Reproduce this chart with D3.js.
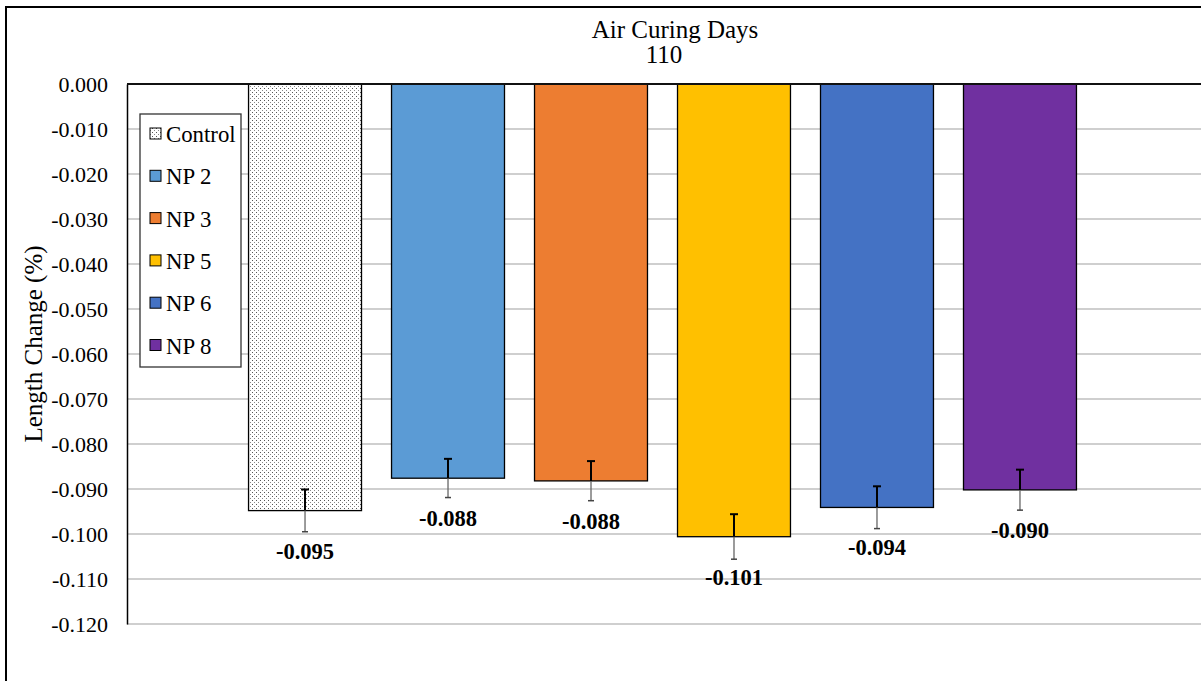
<!DOCTYPE html>
<html>
<head>
<meta charset="utf-8">
<script src="https://cdn.jsdelivr.net/npm/d3@7"></script>
<style>
  html, body { margin: 0; padding: 0; background: #fff; }
  svg { display: block; }
  svg text { font-family: "Liberation Serif", "Times New Roman", serif; fill: #000; }
</style>
</head>
<body>
<svg id="chart" width="1201" height="681"></svg>
<script>
// Length change after 110 days of air curing
const categories = ["Control", "NP 2", "NP 3", "NP 5", "NP 6", "NP 8"];
const lengthChange = [-0.0948, -0.0876, -0.0882, -0.1006, -0.0941, -0.0902];
const errorRange = [0.0047, 0.0043, 0.0044, 0.0050, 0.0047, 0.0045];
const barColors = ["url(#dots)", "#5B9BD5", "#ED7D31", "#FFC000", "#4472C4", "#7030A0"];
const yTicks = [0, -0.01, -0.02, -0.03, -0.04, -0.05, -0.06, -0.07, -0.08, -0.09, -0.10, -0.11, -0.12];

const svg = d3.select("#chart");

// dotted fill for the control bar
const defs = svg.append("defs");
const pat = defs.append("pattern")
  .attr("id", "dots").attr("patternUnits", "userSpaceOnUse")
  .attr("width", 4).attr("height", 4);
pat.append("rect").attr("width", 4).attr("height", 4).attr("fill", "#fff");
pat.append("rect").attr("x", 0).attr("y", 0).attr("width", 1).attr("height", 1).attr("fill", "#555");
pat.append("rect").attr("x", 2).attr("y", 2).attr("width", 1).attr("height", 1).attr("fill", "#888");

// outer chart frame
svg.append("rect")
  .attr("x", 6).attr("y", 7).attr("width", 1220).attr("height", 700)
  .attr("fill", "none").attr("stroke", "#000").attr("stroke-width", 2);

const plotLeft = 127, plotRight = 1198, plotTop = 84, plotBottom = 624;

const y = d3.scaleLinear().domain([-0.12, 0]).range([plotBottom, plotTop]);
const x = d3.scaleBand().domain(categories).range([plotLeft, plotRight])
  .paddingInner(0.21).paddingOuter(0.85);

// horizontal gridlines
svg.append("g").selectAll("line").data(yTicks.filter(d => d !== 0)).join("line")
  .attr("x1", plotLeft).attr("x2", 1201)
  .attr("y1", d => y(d)).attr("y2", d => y(d))
  .attr("stroke", "#bfbfbf").attr("stroke-width", 1.5);

// y axis with tick labels only
const yAxis = d3.axisLeft(y).tickValues(yTicks).tickSize(0).tickPadding(19)
  .tickFormat(d => d3.format(".3f")(d).replace("−", "-"));
const gy = svg.append("g").attr("transform", `translate(${plotLeft},0)`).call(yAxis)
  .attr("font-family", null).attr("font-size", null);
gy.select(".domain").attr("stroke", "#000").attr("stroke-width", 1.5);
gy.selectAll("text").style("font-size", "22px");

// bars
svg.append("g").selectAll("rect").data(categories).join("rect")
  .attr("x", d => x(d))
  .attr("y", y(0))
  .attr("width", x.bandwidth())
  .attr("height", (d, i) => y(lengthChange[i]) - y(0))
  .attr("fill", (d, i) => barColors[i])
  .attr("stroke", "#000").attr("stroke-width", 1.3);

// zero line
svg.append("line")
  .attr("x1", plotLeft).attr("x2", 1201).attr("y1", y(0)).attr("y2", y(0))
  .attr("stroke", "#111").attr("stroke-width", 1.8);

// error bars: inside part dark, outside part lighter
const eg = svg.append("g");
categories.forEach((c, i) => {
  const cx = x(c) + x.bandwidth() / 2;
  const v = lengthChange[i], e = errorRange[i];
  eg.append("line").attr("x1", cx).attr("x2", cx)
    .attr("y1", y(v + e)).attr("y2", y(v))
    .attr("stroke", "#000").attr("stroke-width", 2);
  eg.append("line").attr("x1", cx).attr("x2", cx)
    .attr("y1", y(v)).attr("y2", y(v - e))
    .attr("stroke", "#666").attr("stroke-width", 1.3);
  eg.append("line").attr("x1", cx - 4).attr("x2", cx + 4)
    .attr("y1", y(v + e)).attr("y2", y(v + e))
    .attr("stroke", "#000").attr("stroke-width", 2);
  eg.append("line").attr("x1", cx - 3).attr("x2", cx + 3)
    .attr("y1", y(v - e)).attr("y2", y(v - e))
    .attr("stroke", "#444").attr("stroke-width", 1.5);
});

// value labels below each bar
svg.append("g").selectAll("text").data(categories).join("text")
  .attr("x", d => x(d) + x.bandwidth() / 2)
  .attr("y", (d, i) => y(lengthChange[i]) + 48)
  .attr("text-anchor", "middle")
  .style("font-size", "22.5px").style("font-weight", "bold")
  .text((d, i) => lengthChange[i].toFixed(3));

// title
svg.append("text").attr("x", 675).attr("y", 38).attr("text-anchor", "middle")
  .style("font-size", "25px").text("Air Curing Days");
svg.append("text").attr("x", 664).attr("y", 63).attr("text-anchor", "middle")
  .style("font-size", "25px").text("110");

// y axis title
svg.append("text")
  .attr("transform", "translate(42,344) rotate(-90)")
  .attr("text-anchor", "middle").style("font-size", "25px")
  .text("Length Change (%)");

// legend
const lg = svg.append("g");
lg.append("rect").attr("x", 140).attr("y", 114).attr("width", 101).attr("height", 253)
  .attr("fill", "#fff").attr("stroke", "#333").attr("stroke-width", 1.3);
categories.forEach((c, i) => {
  const cy = 134 + i * 42.3;
  lg.append("rect").attr("x", 150).attr("y", cy - 6).attr("width", 11).attr("height", 11)
    .attr("fill", barColors[i]).attr("stroke", "#000").attr("stroke-width", 1);
  lg.append("text").attr("x", 166).attr("y", cy + 8)
    .style("font-size", "22.8px").text(c);
});
</script>
</body>
</html>
